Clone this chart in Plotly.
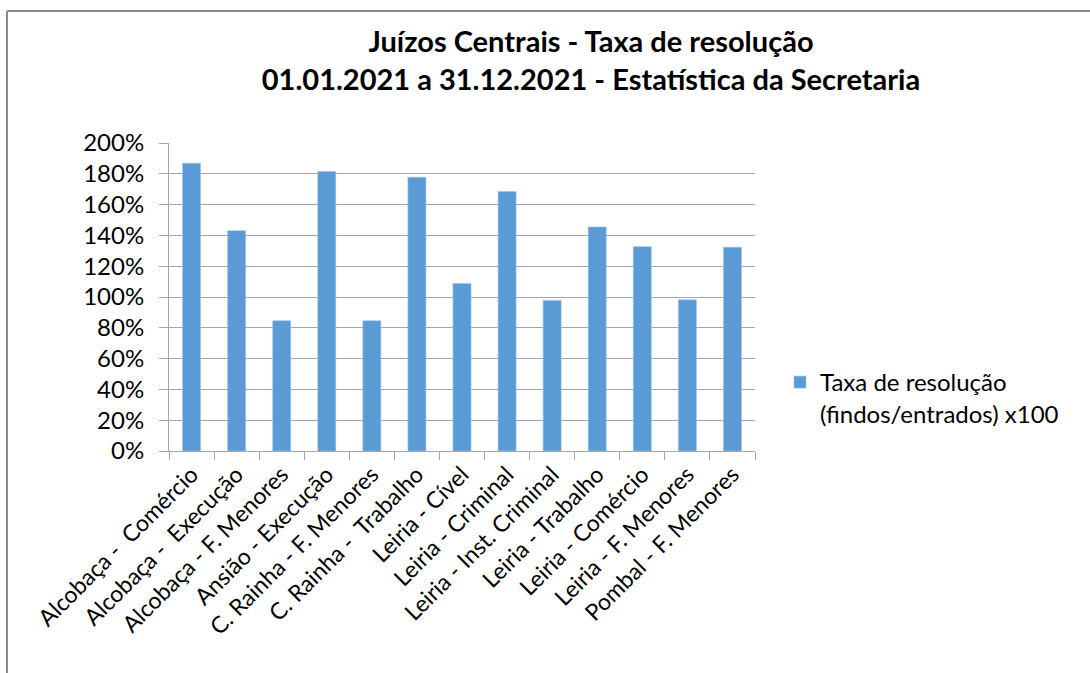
import plotly.graph_objects as go

# Resolution rate per central court, 2021
categorias = [
    "Alcobaça - \u00a0Comércio",
    "Alcobaça - \u00a0Execução",
    "Alcobaça - F. Menores",
    "Ansião - Execução",
    "C. Rainha - F. Menores",
    "C. Rainha - \u00a0Trabalho",
    "Leiria - Cível",
    "Leiria - Criminal",
    "Leiria - Inst. Criminal",
    "Leiria - Trabalho",
    "Leiria - Comércio",
    "Leiria - F. Menores",
    "Pombal - F. Menores",
]
taxa_resolucao = [1.869, 1.431, 0.846, 1.815, 0.846, 1.778, 1.088,
                  1.685, 0.978, 1.455, 1.327, 0.982, 1.323]

y_ticks = [0, 0.2, 0.4, 0.6, 0.8, 1.0, 1.2, 1.4, 1.6, 1.8, 2.0]

FONT = "Lato"
GREY = "#A6A6A6"

W, H = 1090, 673
L, R, T, B = 169, 335, 143, 222
pw, ph = W - L - R, H - T - B


def px_x(x):
    return (x - L) / pw


def px_y(y):
    return (H - B - y) / ph


fig = go.Figure()
fig.add_trace(go.Bar(
    x=categorias,
    y=taxa_resolucao,
    name="Taxa de resolução<br>(findos/entrados) x100",
    marker=dict(color="#5B9BD5", line=dict(color="#9DC3E6", width=0.6)),
    width=0.4,
    showlegend=True,
))

fig.update_layout(
    width=W, height=H,
    margin=dict(l=L, r=R, t=T, b=B, autoexpand=False),
    paper_bgcolor="white",
    plot_bgcolor="white",
    font=dict(family=FONT, size=24, color="#000000"),
    title=dict(
        text="<b>Juízos Centrais - Taxa de resolução<br>01.01.2021 a 31.12.2021 - Estatística da Secretaria</b>",
        x=px_x(591), xref="paper", xanchor="center",
        y=1 - 52 / H, yref="container", yanchor="middle",
        font=dict(family=FONT, size=29, color="#000000"),
    ),
    legend=dict(
        x=px_x(780), xanchor="left",
        y=px_y(360), yanchor="top",
        valign="top",
        font=dict(family=FONT, size=24),
        itemwidth=30,
        bgcolor="rgba(0,0,0,0)",
    ),
    bargap=0.6,
)

fig.update_yaxes(
    range=[0, 2.0],
    tickvals=y_ticks,
    tickformat=".0%",
    showgrid=True, gridcolor=GREY, gridwidth=1,
    showline=True, linecolor=GREY, linewidth=1,
    ticks="outside", ticklen=9, tickcolor=GREY,
    ticklabelstandoff=10,
    zeroline=False,
    fixedrange=True,
)
fig.update_xaxes(
    tickangle=-45,
    tickfont=dict(size=23),
    showline=True, linecolor=GREY, linewidth=1,
    ticks="outside", ticklen=8, tickcolor=GREY,
    tickson="boundaries",
    showgrid=False,
    fixedrange=True,
)

# Outer chart frame (top and left edges)
fig.add_shape(type="line", xref="paper", yref="paper",
              x0=px_x(7), x1=px_x(W), y0=px_y(11), y1=px_y(11),
              line=dict(color="#8C8C8C", width=2))
fig.add_shape(type="line", xref="paper", yref="paper",
              x0=px_x(7), x1=px_x(7), y0=px_y(11), y1=px_y(H),
              line=dict(color="#8C8C8C", width=2))

fig.write_html("out.html")
